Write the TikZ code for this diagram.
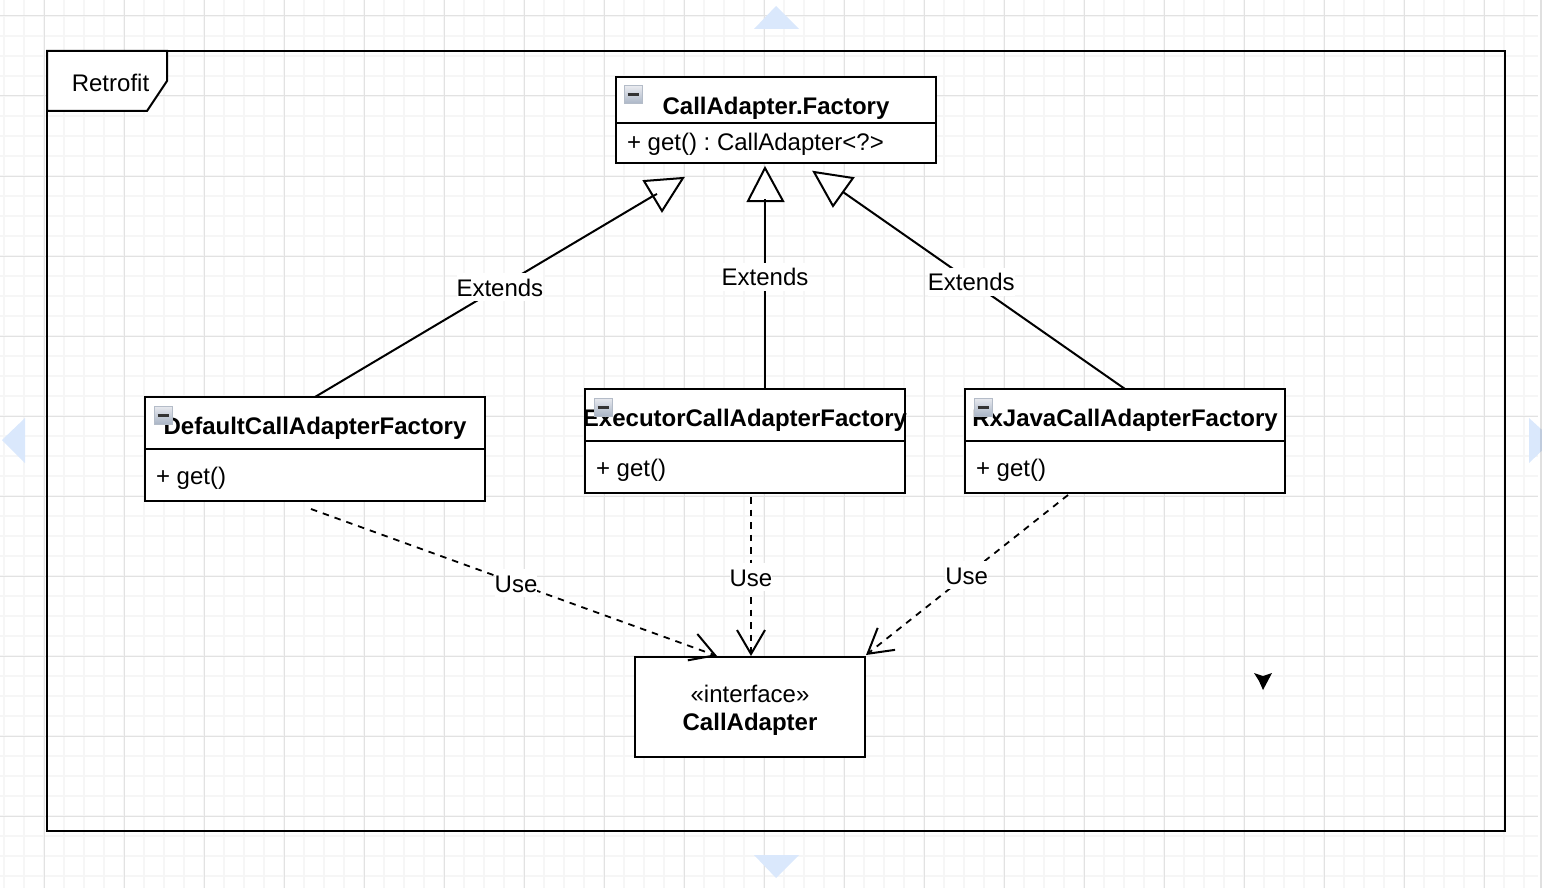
\documentclass[tikz,border=0pt]{standalone}
\usepackage{fontspec}
\setmainfont{Liberation Sans}
\usetikzlibrary{arrows.meta,positioning,shadings}

\definecolor{gridminor}{HTML}{F6F6F6}
\definecolor{gridmajor}{HTML}{E2E2E2}
\definecolor{hintblue}{HTML}{DAE8FC}
\definecolor{btntop}{HTML}{E8EAEF}
\definecolor{btnbottom}{HTML}{AAB5C6}
\definecolor{btnedge}{HTML}{B4BCC8}

\newcommand{\umlfont}{\fontsize{24}{28}\selectfont\frenchspacing}
\newcommand{\headtext}[1]{\makebox[0pt]{#1}}
\newcommand{\itemtext}[2]{\makebox[#1][l]{#2}}

\begin{document}
\begin{tikzpicture}[x=1pt, y=-1pt, line width=2pt, >=stealth,
                    every node/.style={font=\umlfont},
                    classhead/.style={draw,fill=white,inner sep=0pt,outer sep=0pt,anchor=north west,font=\umlfont\bfseries},
                    classbody/.style={draw,fill=white,inner sep=0pt,inner xsep=11pt,outer sep=0pt},
                    collapsebtn/.style={draw=btnedge,line width=1pt,top color=btntop,bottom color=btnbottom,minimum size=18pt,inner sep=0pt,
                                        path picture={\draw[line width=3pt,black!80] (path picture bounding box.west) ++(3.5pt,0pt) -- ++(11pt,0pt);}},
                    edgelabel/.style={fill=white,inner sep=0pt,text height=23pt,text depth=5pt},
                    extendsline/.style={draw,solid},
                    useline/.style={draw,line width=1.8pt,dash pattern=on 6.5pt off 6pt,-{Straight Barb[length=24pt,width=28pt,line width=2pt]}},
                    opentri/.style={draw,fill=white,line join=miter},
                    hint/.style={fill=hintblue,draw=none}]

\useasboundingbox (0,0) rectangle (1542,888);

% grid behind everything
\foreach \gx in {4,24,...,1524} \draw[gridminor,line width=1.3pt] (\gx,0) -- (\gx,888);
\foreach \gy in {16,36,...,876} \draw[gridminor,line width=1.3pt] (0,\gy) -- (1538,\gy);
\foreach \gx in {44,124,...,1524} \draw[gridmajor,line width=1pt] (\gx,0) -- (\gx,888);
\foreach \gy in {16,96,...,876} \draw[gridmajor,line width=1pt] (0,\gy) -- (1538,\gy);

% hint arrows at the edges
\fill[hint] (776,6) -- (754,29) -- (799,29) -- cycle;
\fill[hint] (776,878) -- (754,855) -- (799,855) -- cycle;
\fill[hint] (2,440) -- (25,418) -- (25,463) -- cycle;
\fill[hint] (1553,440) -- (1529,418) -- (1529,463) -- cycle;
\fill[black,opacity=.12] (1540,0) rectangle (1542,888);

% frame
\node[draw,inner sep=0pt,outer sep=0pt,anchor=north west,minimum width=1458pt,minimum height=780pt] (retrofitframe) at (47,51) {};
\draw[fill=white] (retrofitframe.north west) -- (167,51) -- (167,81) -- (147,111) -- (47,111) -- cycle;
\node (retrofitlabel) at (110.5,83) {Retrofit};

% classes
\node[classhead,minimum width=320pt,text height=38pt,text depth=8pt] (factoryname) at (616,77) {\headtext{CallAdapter.Factory}};
\node[classbody,text height=27pt,text depth=13pt,below=0pt of factoryname] (factorybody) {\itemtext{298pt}{+ get() : CallAdapter<?>}};

\node[classhead,minimum width=340pt,text height=37pt,text depth=15pt] (defaultname) at (145,397) {\headtext{DefaultCallAdapterFactory}};
\node[classbody,text height=35pt,text depth=17pt,below=0pt of defaultname] (defaultbody) {\itemtext{318pt}{+ get()}};

\node[classhead,minimum width=320pt,text height=37pt,text depth=15pt] (executorname) at (585,389) {\headtext{ExecutorCallAdapterFactory}};
\node[classbody,text height=35pt,text depth=17pt,below=0pt of executorname] (executorbody) {\itemtext{298pt}{+ get()}};

\node[classhead,minimum width=320pt,text height=37pt,text depth=15pt] (rxname) at (965,389) {\headtext{RxJavaCallAdapterFactory}};
\node[classbody,text height=35pt,text depth=17pt,below=0pt of rxname] (rxbody) {\itemtext{298pt}{+ get()}};

\node[draw,fill=white,inner sep=0pt,outer sep=0pt,minimum width=230pt,minimum height=100pt] (adapter) at (750,707) {};
\node[align=center,yshift=-3pt] (adaptertext) at (adapter) {«interface»\\{\bfseries CallAdapter}};

\node[collapsebtn] (factorybtn) at (633,95) {};
\node[collapsebtn] (defaultbtn) at (163,415) {};
\node[collapsebtn] (executorbtn) at (603,407) {};
\node[collapsebtn] (rxbtn) at (983,407) {};

% free ends of the connectors
\coordinate (extendsleft) at (653,196);
\coordinate (extendsmid) at (765,199);
\coordinate (extendsright) at (843,192);
\coordinate (executortop) at (765,389);
\coordinate (usefromdefault) at (311,509);
\coordinate (usefromexecutor) at (751,497);
\coordinate (usefromrx) at (1068,495);
\coordinate (usetoleft) at (717,656);
\coordinate (usetomid) at (751,656);
\coordinate (usetoright) at (866,655);

\path
(defaultname.north) edge [extendsline] node[edgelabel,pos=.547] (extendsa) {Extends} (extendsleft)
(executortop) edge [extendsline] node[edgelabel,pos=.59] (extendsb) {Extends} (extendsmid)
(rxname.north) edge [extendsline] node[edgelabel,pos=.545] (extendsc) {Extends} (extendsright);

\path
(usefromdefault) edge [useline] node[edgelabel,pos=.505] (usea) {Use} (usetoleft)
(usefromexecutor) edge [useline] node[edgelabel,pos=.506] (useb) {Use} (usetomid)
(usefromrx) edge [useline] node[edgelabel,pos=.502] (usec) {Use} (usetoright);

% open triangles, as tilted as they are
\draw[opentri] (644,181) -- (683,178) -- (662,211) -- cycle;
\draw[opentri] (765,168) -- (748,201) -- (783,201) -- cycle;
\draw[opentri] (814,172) -- (853,178) -- (833,206) -- cycle;
\draw (extendsleft) -- ++(4,-2);
\draw (extendsmid) -- ++(0,2);

% pointer
\fill (1254,673) -- (1263,676) -- (1272,673) -- (1263,690) -- (1259,681) -- cycle;
\end{tikzpicture}
\end{document}
